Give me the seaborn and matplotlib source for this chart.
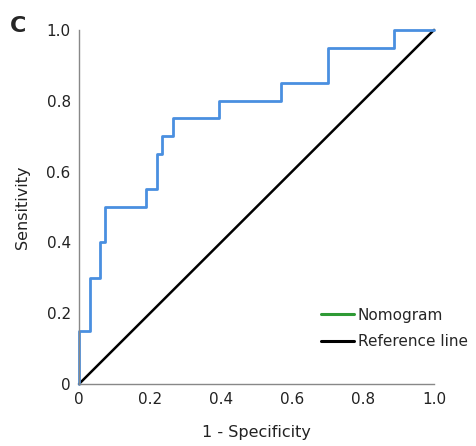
import matplotlib
matplotlib.use("Agg")
import matplotlib.pyplot as plt
import seaborn as sns
import pandas as pd
from matplotlib.lines import Line2D

# ROC curve vertices (1 - specificity, sensitivity)
fpr = [0, 0, 0.031, 0.031, 0.059, 0.059, 0.073, 0.073, 0.19, 0.19, 0.219, 0.219,
       0.233, 0.233, 0.264, 0.264, 0.394, 0.394, 0.568, 0.568, 0.70, 0.70,
       0.888, 0.888, 1.0]
tpr = [0, 0.15, 0.15, 0.30, 0.30, 0.40, 0.40, 0.50, 0.50, 0.55, 0.55, 0.65,
       0.65, 0.70, 0.70, 0.75, 0.75, 0.80, 0.80, 0.85, 0.85, 0.95,
       0.95, 1.0, 1.0]
ref_x = [0, 1]
ref_y = [0, 1]
tick_vals = [0, 0.2, 0.4, 0.6, 0.8, 1.0]
tick_labels = ["0", "0.2", "0.4", "0.6", "0.8", "1.0"]
legend_labels = ["Nomogram", "Reference line"]

sns.set_style("white")
plt.rcParams['font.family'] = ['DejaVu Sans']

fig = plt.figure(figsize=(4.77, 4.46), dpi=100)
ax = fig.add_axes([0.1656, 0.139, 0.7444, 0.794])

roc_df = pd.DataFrame({"fpr": fpr, "tpr": tpr})
ref_df = pd.DataFrame({"x": ref_x, "y": ref_y})

sns.lineplot(data=ref_df, x="x", y="y", ax=ax, color="black", lw=1.8,
             sort=False, estimator=None)
sns.lineplot(data=roc_df, x="fpr", y="tpr", ax=ax, color="#4a8fe0", lw=2.0,
             sort=False, estimator=None)
for l in ax.lines:
    l.set_clip_on(False)

ax.set_xlim(0, 1)
ax.set_ylim(0, 1)
ax.set_xticks(tick_vals)
ax.set_xticklabels(tick_labels)
ax.set_yticks(tick_vals)
ax.set_yticklabels(tick_labels)
ax.tick_params(length=0, labelsize=11, pad=6, colors="#222222")
for s in ["top", "right"]:
    ax.spines[s].set_visible(False)
for s in ["left", "bottom"]:
    ax.spines[s].set_color("#888888")
    ax.spines[s].set_linewidth(1.0)

ax.set_xlabel("1 - Specificity", fontsize=11.5, labelpad=13, color="#222222")
ax.set_ylabel("Sensitivity", fontsize=11.5, labelpad=12, color="#222222")

handles = [Line2D([0], [0], color="#2e9a35", lw=2.2),
           Line2D([0], [0], color="black", lw=2.2)]
ax.legend(handles, legend_labels, loc="lower left", bbox_to_anchor=(0.642, 0.06),
          frameon=False, fontsize=11, handlelength=2.15, handletextpad=0.28,
          labelspacing=0.75)

fig.text(0.02, 0.928, "C", fontsize=16, fontweight="bold")

fig.savefig("out.png", dpi=100)
